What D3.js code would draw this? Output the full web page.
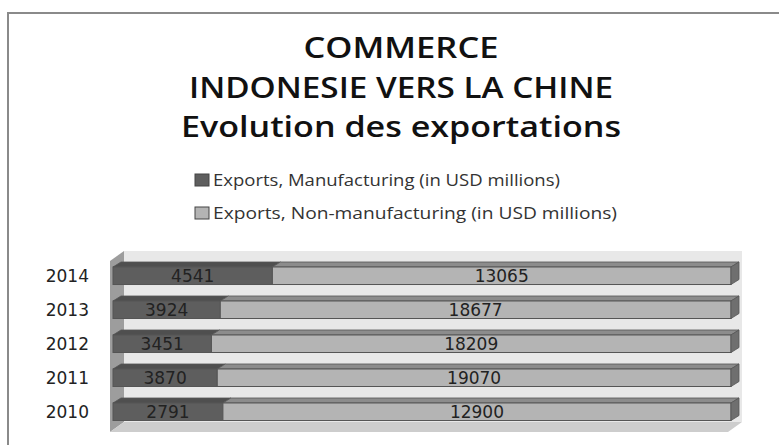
<!DOCTYPE html>
<html>
<head>
<meta charset="utf-8">
<script src="https://cdn.jsdelivr.net/npm/d3@7"></script>
<style>
  html, body { margin: 0; padding: 0; background: #fff; }
  svg { display: block; }
</style>
</head>
<body>
<div id="chart"></div>
<script>
// data
var years = ['2010', '2011', '2012', '2013', '2014']
var manufacturing = [2791, 3870, 3451, 3924, 4541]
var nonManufacturing = [12900, 19070, 18209, 18677, 13065]
var seriesNames = [
  'Exports, Manufacturing (in USD millions)',
  'Exports, Non-manufacturing (in USD millions)'
]
var titleLines = ['COMMERCE', 'INDONESIE VERS LA CHINE', 'Evolution des exportations']

var width = 779, height = 445
var svg = d3.select('#chart').append('svg').attr('width', width).attr('height', height)

// frame (top and left edge visible)
svg.append('path')
  .attr('d', 'M8,' + height + 'V13H' + width)
  .attr('fill', 'none').attr('stroke', '#8a8a8a').attr('stroke-width', 2)

// title
var titleY = [58, 98, 137], titleW = [195, 424, 440]
svg.selectAll('text.title').data(titleLines).join('text')
  .attr('class', 'title')
  .attr('x', 401).attr('y', (d, i) => titleY[i])
  .attr('text-anchor', 'middle')
  .attr('font-family', 'Open Sans, sans-serif').attr('font-weight', 600)
  .attr('font-size', 28).attr('fill', '#111')
  .attr('textLength', (d, i) => titleW[i]).attr('lengthAdjust', 'spacingAndGlyphs')
  .text(d => d)

var fronts = ['#5e5e5e', '#b4b4b4']
var tops = ['#4f4f4f', '#8c8c8c']

// legend
var leg = svg.selectAll('g.leg').data(seriesNames).join('g')
  .attr('class', 'leg')
  .attr('transform', (d, i) => 'translate(195,' + (180 + i * 33) + ')')
leg.append('rect')
  .attr('x', 0).attr('y', -6).attr('width', 14).attr('height', 12)
  .attr('fill', (d, i) => fronts[i]).attr('stroke', '#444')
leg.append('text')
  .attr('x', 18).attr('y', 6)
  .attr('font-family', 'Open Sans, sans-serif').attr('font-size', 16).attr('fill', '#333')
  .attr('textLength', (d, i) => [347, 404][i]).attr('lengthAdjust', 'spacingAndGlyphs')
  .text(d => d)

// scales
var x = d3.scaleLinear().domain([0, 1]).range([113, 731])
var y = d3.scaleBand().domain(years.slice().reverse())
  .range([250, 437.5]).paddingInner(0.485).paddingOuter(0.5)

// walls
var wd = {dx: 14, dy: -10}
var wx0 = 110, wx1 = 728, wyTop = 261, wyBot = 432
svg.append('polygon') // back wall
  .attr('points', [[wx0 + wd.dx, wyTop + wd.dy], [wx1 + wd.dx, wyTop + wd.dy], [wx1 + wd.dx, wyBot + wd.dy], [wx0 + wd.dx, wyBot + wd.dy]].join(' '))
  .attr('fill', '#e8e8e8')
svg.append('polygon') // side wall
  .attr('points', [[wx0, wyTop], [wx0 + wd.dx, wyTop + wd.dy], [wx0 + wd.dx, wyBot + wd.dy], [wx0, wyBot]].join(' '))
  .attr('fill', '#9d9d9d')
svg.append('polygon') // floor
  .attr('points', [[wx0, wyBot], [wx0 + wd.dx, wyBot + wd.dy], [wx1 + wd.dx, wyBot + wd.dy], [wx1, wyBot]].join(' '))
  .attr('fill', '#cdcdcd')

// stacked 100% bars
var table = years.map((yr, i) => ({year: yr, m: manufacturing[i], n: nonManufacturing[i]}))
var stack = d3.stack().keys(['m', 'n']).offset(d3.stackOffsetExpand)(table)

var bd = {dx: 8, dy: -5}

stack.forEach(function(series, si) {
  series.forEach(function(seg) {
    var x0 = x(seg[0]), x1 = x(seg[1])
    var y0 = y(seg.data.year), h = y.bandwidth()
    var g = svg.append('g')
    g.append('polygon')
      .attr('points', [[x0, y0], [x0 + bd.dx, y0 + bd.dy], [x1 + bd.dx, y0 + bd.dy], [x1, y0]].join(' '))
      .attr('fill', tops[si]).attr('stroke', '#555').attr('stroke-width', 0.8)
    g.append('rect')
      .attr('x', x0).attr('y', y0).attr('width', x1 - x0).attr('height', h)
      .attr('fill', fronts[si]).attr('stroke', '#555').attr('stroke-width', 1)
    if (si === stack.length - 1) {
      g.append('polygon')
        .attr('points', [[x1, y0], [x1 + bd.dx, y0 + bd.dy], [x1 + bd.dx, y0 + h + bd.dy], [x1, y0 + h]].join(' '))
        .attr('fill', '#6f6f6f').attr('stroke', '#555').attr('stroke-width', 0.8)
    }
    g.append('text')
      .attr('x', (x0 + x1) / 2).attr('y', y0 + h / 2 + 6)
      .attr('text-anchor', 'middle')
      .attr('font-family', 'DejaVu Sans, sans-serif').attr('font-size', 17).attr('fill', '#222')
      .text(seg.data[series.key])
  })
})

// year labels
svg.append('g').selectAll('text').data(years).join('text')
  .attr('x', 89).attr('y', d => y(d) + y.bandwidth() / 2 + 6)
  .attr('text-anchor', 'end')
  .attr('font-family', 'DejaVu Sans, sans-serif').attr('font-size', 17).attr('fill', '#222')
  .text(d => d)
</script>
</body>
</html>
